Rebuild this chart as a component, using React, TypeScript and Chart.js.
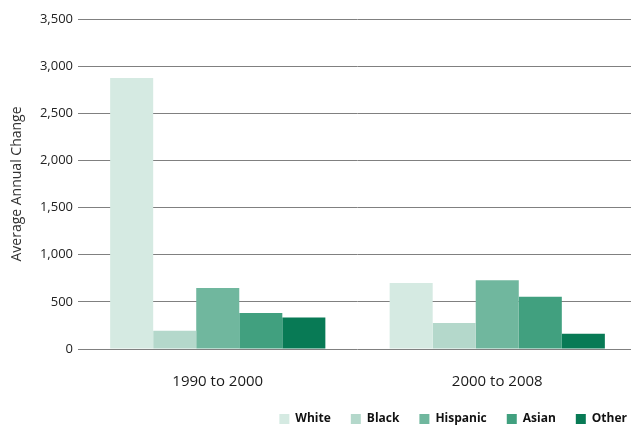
import React, { useEffect, useRef } from "react";
import { Chart, registerables } from "chart.js";

Chart.register(...registerables);

const categories = ["1990 to 2000", "2000 to 2008"];
const seriesNames = ["White", "Black", "Hispanic", "Asian", "Other"];
const whiteValues = [2875, 700];
const blackValues = [194, 276];
const hispanicValues = [648, 728];
const asianValues = [382, 555];
const otherValues = [335, 162];
const seriesColors = ["#d5eae2", "#b4d8cb", "#70b79e", "#41a07f", "#087a55"];
const yTicks = [0, 500, 1000, 1500, 2000, 2500, 3000, 3500];

const FONT = "'Open Sans', 'DejaVu Sans', sans-serif";

const legendShift = {
  id: "legendShift",
  afterLayout(chart: any) {
    if (chart.legend) {
      chart.legend.left += 10;
      chart.legend.right += 10;
    }
  },
};

export default function App() {
  const ref = useRef<HTMLCanvasElement | null>(null);
  useEffect(() => {
    if (!ref.current) return;
    const values = [whiteValues, blackValues, hispanicValues, asianValues, otherValues];
    const chart = new Chart(ref.current, {
      type: "bar",
      data: {
        labels: categories,
        datasets: seriesNames.map((name, i) => ({
          label: name,
          data: values[i],
          backgroundColor: seriesColors[i],
          borderWidth: 0,
          barPercentage: 1,
          categoryPercentage: 0.77,
        })),
      },
      options: {
        responsive: false,
        animation: false,
        layout: { padding: { top: 19, right: 3, bottom: 0, left: 0 } },
        plugins: {
          legend: {
            position: "bottom",
            align: "end",
            labels: {
              boxWidth: 10,
              boxHeight: 10,
              padding: 20,
              color: "#111",
              font: { family: FONT, size: 12, weight: "bold" },
            },
          },
          tooltip: { enabled: false },
        },
        scales: {
          x: {
            afterFit: (scale: any) => {
              scale.height = 44;
            },
            grid: { display: false, drawTicks: false },
            border: { display: false },
            ticks: {
              color: "#1a1a1a",
              padding: 24,
              font: { family: FONT, size: 15 },
            },
          },
          y: {
            min: 0,
            max: 3500,
            afterBuildTicks: (scale: any) => {
              scale.ticks = yTicks.map((v) => ({ value: v }));
            },
            afterFit: (scale: any) => {
              scale.width = 78;
            },
            grid: { color: "#808080", lineWidth: 1, drawTicks: false },
            border: { display: false },
            ticks: {
              color: "#222",
              padding: 5,
              font: { family: FONT, size: 13 },
              callback: (v: any) => Number(v).toLocaleString("en-US"),
            },
            title: {
              display: true,
              text: "Average Annual Change",
              color: "#333",
              padding: { top: 9, bottom: 0 },
              font: { family: FONT, size: 14 },
            },
          },
        },
      },
      plugins: [legendShift],
    });
    return () => chart.destroy();
  }, []);
  return (
    <div style={{ position: "fixed", left: 0, top: 0, width: 640, height: 435, background: "#fff" }}>
      <canvas ref={ref} width={640} height={435} />
    </div>
  );
}
